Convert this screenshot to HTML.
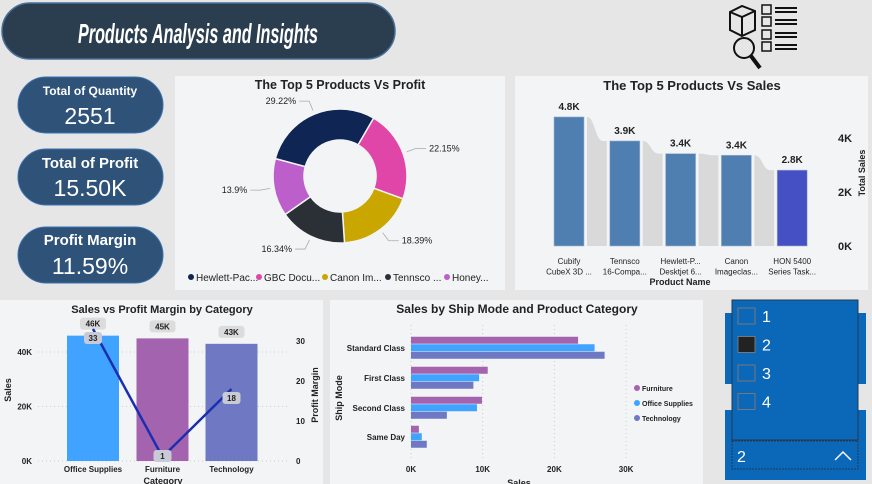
<!DOCTYPE html>
<html><head><meta charset="utf-8"><style>
html,body{margin:0;padding:0;background:#e6e6e6;}
svg{display:block;font-family:"Liberation Sans",sans-serif;}
</style></head><body>
<svg id="s" width="872" height="484" viewBox="0 0 872 484" xmlns="http://www.w3.org/2000/svg">
<rect x="0" y="0" width="872" height="484" fill="#e6e6e6"/>
<g>
<rect x="2" y="3" width="393" height="56" rx="28" fill="#2b3e50" stroke="#4a6f96" stroke-width="1.5"/>
<text x="198" y="43" text-anchor="middle" fill="#fff" font-size="28" font-weight="bold" font-style="italic" textLength="240" lengthAdjust="spacingAndGlyphs">Products Analysis and Insights</text>
</g>
<g stroke="#111" stroke-width="2" fill="none">
<path d="M730 12 L742 6 L755 11 L755 30 L742 36 L730 30 Z M730 12 L742 17 L755 11 M742 17 L742 36"/>
<circle cx="744" cy="48" r="10"/><line x1="751" y1="56" x2="760" y2="68" stroke-width="4"/>
<rect x="762" y="5" width="9" height="9" stroke-width="1.5"/><rect x="762" y="17" width="9" height="9" stroke-width="1.5"/>
<rect x="762" y="30" width="9" height="9" stroke-width="1.5"/><rect x="762" y="42" width="9" height="9" stroke-width="1.5"/>
<path d="M775 8h22M775 12h22M775 20h22M775 24h22M775 33h22M775 37h22M775 45h22M775 49h22"/>
</g>
<g>
<rect x="18" y="77" width="145" height="56" rx="28" fill="#2e5278" stroke="#3b73b0"/>
<text x="90" y="95" text-anchor="middle" fill="#fff" font-size="12" font-weight="bold">Total of Quantity</text>
<text x="90" y="124" text-anchor="middle" fill="#fff" font-size="23">2551</text></g>
<g>
<rect x="18" y="149" width="145" height="56" rx="28" fill="#2e5278" stroke="#3b73b0"/>
<text x="90" y="168" text-anchor="middle" fill="#fff" font-size="15" font-weight="bold">Total of Profit</text>
<text x="90" y="196" text-anchor="middle" fill="#fff" font-size="23">15.50K</text></g>
<g>
<rect x="18" y="227" width="145" height="56" rx="28" fill="#2e5278" stroke="#3b73b0"/>
<text x="90" y="245" text-anchor="middle" fill="#fff" font-size="15" font-weight="bold">Profit Margin</text>
<text x="90" y="274" text-anchor="middle" fill="#fff" font-size="23">11.59%</text></g>
<rect x="175" y="76" width="330" height="214" fill="#f3f4f6"/>
<rect x="515" y="76" width="353" height="214" fill="#f3f4f6"/>
<rect x="0" y="300" width="323" height="184" fill="#f3f4f6"/>
<rect x="330" y="300" width="373" height="184" fill="#f3f4f6"/>
<text x="340" y="89" text-anchor="middle" font-size="12.5" font-weight="bold" fill="#222">The Top 5 Products Vs Profit</text>
<text x="692" y="90" text-anchor="middle" font-size="13" font-weight="bold" fill="#222">The Top 5 Products Vs Sales</text>
<text x="162" y="313" text-anchor="middle" font-size="11" font-weight="bold" fill="#222">Sales vs Profit Margin by Category</text>
<text x="517" y="313" text-anchor="middle" font-size="12" font-weight="bold" fill="#222">Sales by Ship Mode and Product Category</text>
<g id="donut"></g><g id="sales"></g><g id="cat"></g><g id="ship"></g>
<g>
<rect x="725" y="313" width="141" height="71" fill="#0b67b8"/>
<rect x="725" y="410" width="141" height="70" fill="#0b67b8"/>
<rect x="732" y="300" width="126" height="140" fill="#0b67b8" stroke="#24384f"/>
<g id="slicerItems"></g>
<rect x="732" y="441" width="126" height="28" fill="#0b67b8" stroke="#24384f" stroke-dasharray="2,1"/>
<text x="737" y="462" fill="#fff" font-size="16">2</text>
<path d="M835 460 L843 452 L851 460" stroke="#fff" fill="none" stroke-width="1.5"/>
</g>
</svg>
<script>
const NS="http://www.w3.org/2000/svg";
function mk(p,t,a,txt){const e=document.createElementNS(NS,t);for(const k in a)e.setAttribute(k,a[k]);if(txt!==undefined)e.textContent=txt;p.appendChild(e);return e;}

const donutLabels=["Hewlett-Pac...","GBC Docu...","Canon Im...","Tennsco ...","Honey..."];
const donutValues=[29.22,22.15,18.39,16.34,13.9];
const donutColors=["#0f2553","#e046a8","#c9a600","#2b2f36","#bd5fcb"];
const salesCats=[["Cubify","CubeX 3D ..."],["Tennsco","16-Compa..."],["Hewlett-P...","Desktjet 6..."],["Canon","Imageclas..."],["HON 5400","Series Task..."]];
const salesValues=[4.78,3.89,3.42,3.36,2.81];
const salesLabels=["4.8K","3.9K","3.4K","3.4K","2.8K"];
const salesTicks=[0,2,4];
const catNames=["Office Supplies","Furniture","Technology"];
const catSales=[46,45,43];
const catSalesLabels=["46K","45K","43K"];
const catMargin=[33,1,18];
const catSalesTicks=[0,20,40];
const catMarginTicks=[0,10,20,30];
const shipModes=["Standard Class","First Class","Second Class","Same Day"];
const shipSeries=["Furniture","Office Supplies","Technology"];
const shipFurniture=[23.3,10.7,9.9,1.1];
const shipOffice=[25.6,9.5,9.2,1.5];
const shipTech=[27.0,8.7,5.0,2.2];
const shipTicks=[0,10,20,30];
const slicerValues=["1","2","3","4"];

(function(){
const g=document.getElementById("donut");
const cx=340,cy=176,R=67,r=36;let a=-75;
const tot=donutValues.reduce((s,v)=>s+v,0);
const pt=(ang,rad)=>[cx+rad*Math.sin(ang*Math.PI/180),cy-rad*Math.cos(ang*Math.PI/180)];
donutValues.forEach((v,i)=>{
 const sw=v/tot*360,a2=a+sw,lg=sw>180?1:0;
 const [x1,y1]=pt(a,R),[x2,y2]=pt(a2,R),[x3,y3]=pt(a2,r),[x4,y4]=pt(a,r);
 const p=mk(g,"path",{d:`M${x1} ${y1}A${R} ${R} 0 ${lg} 1 ${x2} ${y2}L${x3} ${y3}A${r} ${r} 0 ${lg} 0 ${x4} ${y4}Z`,fill:donutColors[i],stroke:"#f3f4f6","stroke-width":1.5});
 
 
 const m=a+sw/2;const [lx,ly]=pt(m,R+4),[mx,my]=pt(m,R+14);
 const right=Math.sin(m*Math.PI/180)>=0;const ex=mx+(right?10:-10);
 mk(g,"path",{d:`M${lx} ${ly}L${mx} ${my}L${ex} ${my}`,stroke:"#aaa",fill:"none","stroke-width":0.8});
 const t=mk(g,"text",{x:ex+(right?3:-3),y:my+3,"text-anchor":right?"start":"end","font-size":9,fill:"#222"},v+"%");
 
 
 a=a2;
});
let lx=191;
donutLabels.forEach((l,i)=>{
 const c=mk(g,"circle",{cx:lx,cy:277,r:3,fill:donutColors[i]});
 
 
 const t=mk(g,"text",{x:lx+5,y:281,"font-size":10,fill:"#222"},l);
 
 
 lx+=[68,66,63,59,0][i];
});
})();

(function(){
const g=document.getElementById("sales");
const base=246,k=27,x0=554,step=55.8,w=30;
const y=v=>base-v*k;
salesValues.forEach((v,i)=>{
 const bx=x0+i*step;
 if(i<salesValues.length-1){
  const sx=bx+w+3,ex=x0+(i+1)*step-3,y1=y(v),y2=y(salesValues[i+1]);
  const rb=mk(g,"path",{d:`M${sx} ${base}L${sx} ${y1}C${sx+8} ${y1},${sx+8} ${y2},${sx+16} ${y2}L${ex} ${y2}L${ex} ${base}Z`,fill:"#d9d9d9"});
  
  
 }
 const b=mk(g,"rect",{x:bx,y:y(v),width:w,height:v*k,fill:i==4?"#4550c4":"#4e7fb0",stroke:"#9db5d6","stroke-width":0.6});
 
 
 const t=mk(g,"text",{x:bx+w/2,y:y(v)-7,"text-anchor":"middle","font-size":10,"font-weight":"bold",fill:"#222"},salesLabels[i]);
 
 
 salesCats[i].forEach((l,j)=>{const c=mk(g,"text",{x:bx+w/2,y:264+j*10.5,"text-anchor":"middle","font-size":8,fill:"#222"},l);
 
 });
});
salesTicks.forEach(v=>{const t=mk(g,"text",{x:838,y:y(v)+4,"font-size":11,"font-weight":"bold",fill:"#222"},v+"K");
 
 });
const at=mk(g,"text",{x:0,y:0,transform:"translate(865,173) rotate(-90)","text-anchor":"middle","font-size":9,"font-weight":"bold",fill:"#222"},"Total Sales");


const xt=mk(g,"text",{x:680,y:285,"text-anchor":"middle","font-size":9,"font-weight":"bold",fill:"#222"},"Product Name");


})();

(function(){
const g=document.getElementById("cat");
const base=461,ks=109/40,km=4,cxs=[93,162.5,231.5],w=52;
const ys=v=>base-v*ks,ym=v=>base-v*km;
catSalesTicks.forEach(v=>{
 mk(g,"line",{x1:38,x2:290,y1:ys(v),y2:ys(v),stroke:"#ccc","stroke-dasharray":"1,3"});
 const t=mk(g,"text",{x:32,y:ys(v)+3,"text-anchor":"end","font-size":8,"font-weight":"bold",fill:"#222"},v+"K");
 
 
});
catMarginTicks.forEach(v=>{const t=mk(g,"text",{x:296,y:ym(v)+3,"font-size":8,"font-weight":"bold",fill:"#222"},v);
 
 });
const cols=["#3fa3ff","#a463ae","#6f78c3"];
catSales.forEach((v,i)=>{
 const b=mk(g,"rect",{x:cxs[i]-w/2,y:ys(v),width:w,height:v*ks,fill:cols[i]});
 
 
 mk(g,"rect",{x:cxs[i]-13,y:ys(v)-18,width:26,height:12,rx:3,fill:"#dcdcdc"});
 const t=mk(g,"text",{x:cxs[i],y:ys(v)-9,"text-anchor":"middle","font-size":8,"font-weight":"bold",fill:"#222"},catSalesLabels[i]);
 
 
 const c=mk(g,"text",{x:cxs[i],y:472,"text-anchor":"middle","font-size":8,"font-weight":"bold",fill:"#222"},catNames[i]);
 
 
});
const pl=mk(g,"polyline",{points:catMargin.map((v,i)=>cxs[i]+","+ym(v)).join(" "),fill:"none",stroke:"#1a2fb0","stroke-width":2.5});


catMargin.forEach((v,i)=>{
 const ly=ym(v)+(i==1?-1:9);
 mk(g,"rect",{x:cxs[i]-9,y:ly-6,width:18,height:12,rx:3,fill:"#c8cbd6"});
 const t=mk(g,"text",{x:cxs[i],y:ly+3,"text-anchor":"middle","font-size":8,"font-weight":"bold",fill:"#222"},v);
 
 
});
const a1=mk(g,"text",{transform:"translate(11,390) rotate(-90)","text-anchor":"middle","font-size":9,"font-weight":"bold",fill:"#222"},"Sales");


const a2=mk(g,"text",{transform:"translate(318,395) rotate(-90)","text-anchor":"middle","font-size":9,"font-weight":"bold",fill:"#222"},"Profit Margin");


const a3=mk(g,"text",{x:163,y:484,"text-anchor":"middle","font-size":9,"font-weight":"bold",fill:"#222"},"Category");


})();

(function(){
const g=document.getElementById("ship");
const x0=411,k=7.17,centers=[348,378,408,437],h=7.5;
const x=v=>x0+v*k;
shipTicks.forEach(v=>{
 mk(g,"line",{x1:x(v),x2:x(v),y1:325,y2:458,stroke:"#ccc","stroke-dasharray":"1,3"});
 const t=mk(g,"text",{x:x(v),y:472,"text-anchor":"middle","font-size":8,"font-weight":"bold",fill:"#222"},v+"K");
 
 
});
const cols=["#a463ae","#3fa3ff","#6f78c3"];
const series=[shipFurniture,shipOffice,shipTech];
shipModes.forEach((m,i)=>{
 const t=mk(g,"text",{x:405,y:centers[i]+3,"text-anchor":"end","font-size":8,"font-weight":"bold",fill:"#222"},m);
 
 
 series.forEach((s,j)=>{
  const b=mk(g,"rect",{x:x0,y:centers[i]-11.25+j*h,width:s[i]*k,height:h-0.5,fill:cols[j]});
  
  
 });
});
shipSeries.forEach((n,j)=>{
 const c=mk(g,"circle",{cx:637,cy:388+j*15,r:3,fill:cols[j]});
 
 
 const t=mk(g,"text",{x:642,y:391+j*15,"font-size":7,"font-weight":"bold",fill:"#222"},n);
 
 
});
const a1=mk(g,"text",{transform:"translate(342,398) rotate(-90)","text-anchor":"middle","font-size":9,"font-weight":"bold",fill:"#222"},"Ship Mode");


const a2=mk(g,"text",{x:519,y:486,"text-anchor":"middle","font-size":9,"font-weight":"bold",fill:"#222"},"Sales");


})();

(function(){
const g=document.getElementById("slicerItems");
slicerValues.forEach((v,i)=>{
 const cy=316+i*28.5;
 const b=mk(g,"rect",{x:738,y:cy-8,width:17,height:16,fill:i==1?"#222":"none",stroke:"#777","stroke-width":1});
 
 
 const t=mk(g,"text",{x:762,y:cy+6,"font-size":16,fill:"#fff"},v);
 
 
});
})();
</script>
</body></html>
